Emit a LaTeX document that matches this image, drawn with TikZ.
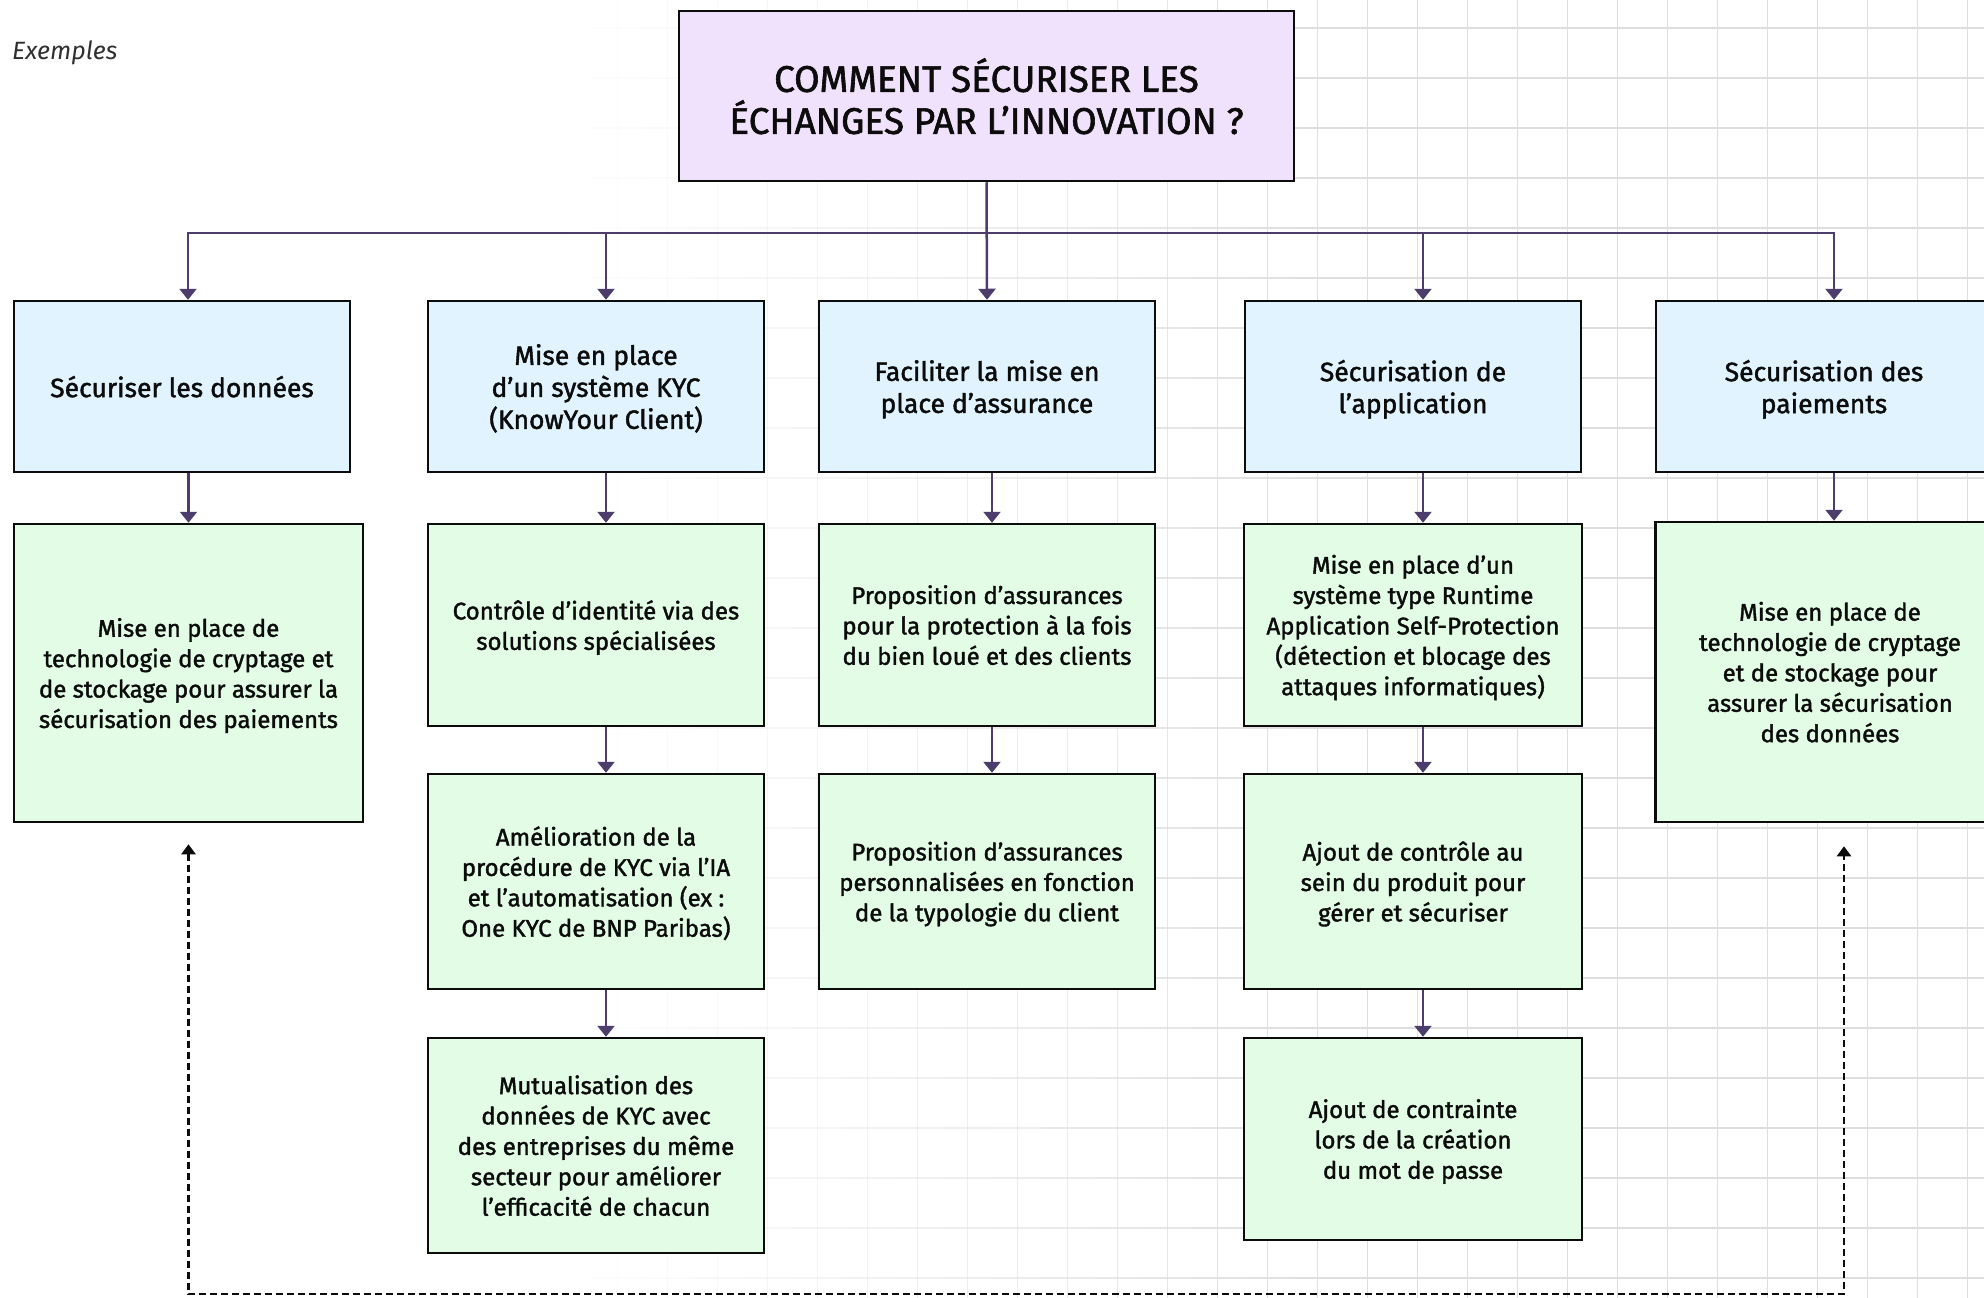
\documentclass[tikz,border=0pt]{standalone}
\usepackage{fontspec}
\setmainfont{Fira Sans}[BoldFont={Fira Sans}, BoldFeatures={FakeBold=1.6}]
\usepackage{tikz}
\usetikzlibrary{arrows.meta}

\definecolor{lavande}{RGB}{240,225,252}
\definecolor{bleuclair}{RGB}{224,243,254}
\definecolor{vertclair}{RGB}{226,252,229}
\definecolor{violet}{RGB}{76,61,108}
\definecolor{grille}{RGB}{222,222,222}
\definecolor{encre}{RGB}{12,12,12}
\newcommand{\taille}[2]{\fontsize{#1}{#2}\selectfont}

\begin{document}
\begin{tikzpicture}[x=1pt, y=-1pt,
    every node/.style={align=center, text=encre, inner sep=0pt},
    titre/.style={draw=encre, line width=2.5pt, fill=lavande, minimum width=615pt, minimum height=170pt, font=\bfseries\taille{37}{42}, text depth=-9pt},
    axe/.style={draw=encre, line width=2.5pt, fill=bleuclair, minimum width=336pt, minimum height=171pt, font=\bfseries\taille{26.5}{32}, text depth=-14pt},
    solution/.style={draw=encre, line width=2.5pt, fill=vertclair, minimum width=336pt, font=\bfseries\taille{24}{30.4}, text depth=-9pt},
    fleche/.style={violet, line width=2.5pt, -{Triangle[width=17pt,length=11pt]}},
    retour/.style={encre, line width=2.5pt, dash pattern=on 7pt off 4pt, {Triangle[width=14pt,length=10pt]}-{Triangle[width=14pt,length=10pt]}}]
      \useasboundingbox (0,0) rectangle (1984,1298);
      \clip (0,0) rectangle (1984,1298);
      \foreach \x in {567.5,617.5,...,1967.5} {
        \pgfmathsetmacro{\op}{min(1,(\x-550)/800)}
        \draw[grille, line width=1.3pt, opacity=\op] (\x,0) -- (\x,1298);
        \foreach \y in {28,78,...,1278}
          \draw[grille, line width=1.3pt, opacity=\op] (\x-25,\y) -- (\x+25,\y);
      }
      \node[anchor=west, font=\itshape\taille{25}{30}, text=encre!85] (EX) at (12,53) {Exemples};
      \node[titre] (T) at (986.5,96) {COMMENT SÉCURISER LES\\ÉCHANGES PAR L’INNOVATION ?};

      \node[axe] (SD) at (182,386.5) {Sécuriser les données};
      \node[axe] (KYC) at (596,386.5) {Mise en place\\d’un système KYC\\(KnowYour Client)};
      \node[axe] (FA) at (987,386.5) {Faciliter la mise en\\place d’assurance};
      \node[axe] (SA) at (1413,386.5) {Sécurisation de\\l’application};
      \node[axe] (SP) at (1824,386.5) {Sécurisation des\\paiements};

      \node[solution, minimum width=349pt, minimum height=298pt] (SD1) at (188.5,673) {Mise en place de\\technologie de cryptage et\\de stockage pour assurer la\\sécurisation des paiements};
      \node[solution, minimum height=202pt] (KYC1) at (596,625) {Contrôle d’identité via des\\solutions spécialisées};
      \node[solution, minimum height=215pt] (KYC2) at (596,881.5) {Amélioration de la\\procédure de KYC via l’IA\\et l’automatisation (ex :\\One KYC de BNP Paribas)};
      \node[solution, minimum height=215pt] (KYC3) at (596,1145.5) {Mutualisation des\\données de KYC avec\\des entreprises du même\\secteur pour améliorer\\l’efficacité de chacun};
      \node[solution, minimum height=202pt] (FA1) at (987,625) {Proposition d’assurances\\pour la protection à la fois\\du bien loué et des clients};
      \node[solution, minimum height=215pt] (FA2) at (987,881.5) {Proposition d’assurances\\personnalisées en fonction\\de la typologie du client};
      \node[solution, minimum width=338pt, minimum height=202pt] (SA1) at (1413,625) {Mise en place d’un\\système type Runtime\\Application Self-Protection\\(détection et blocage des\\attaques informatiques)};
      \node[solution, minimum width=338pt, minimum height=215pt] (SA2) at (1413,881.5) {Ajout de contrôle au\\sein du produit pour\\gérer et sécuriser};
      \node[solution, minimum width=338pt, minimum height=202pt] (SA3) at (1413,1139) {Ajout de contrainte\\lors de la création\\du mot de passe};
      \node[solution, minimum width=349pt, minimum height=300pt] (SP1) at (1830,672) {Mise en place de\\technologie de cryptage\\et de stockage pour\\assurer la sécurisation\\des données};

      \coordinate (J) at (987,233);
      \draw[fleche] (T.south) -- (FA.north);
      \draw[fleche] (J) -| ([xshift=6pt]SD.north);
      \draw[fleche] (J) -| ([xshift=10pt]KYC.north);
      \draw[fleche] (J) -| ([xshift=10pt]SA.north);
      \draw[fleche] (J) -| ([xshift=10pt]SP.north);

      \draw[fleche] (SD1.north |- SD.south) -- (SD1.north);
      \draw[fleche] ([xshift=10pt]KYC.south) -- ([xshift=10pt]KYC1.north);
      \draw[fleche] ([xshift=10pt]KYC1.south) -- ([xshift=10pt]KYC2.north);
      \draw[fleche] ([xshift=10pt]KYC2.south) -- ([xshift=10pt]KYC3.north);
      \draw[fleche] ([xshift=5pt]FA.south) -- ([xshift=5pt]FA1.north);
      \draw[fleche] ([xshift=5pt]FA1.south) -- ([xshift=5pt]FA2.north);
      \draw[fleche] ([xshift=10pt]SA.south) -- ([xshift=10pt]SA1.north);
      \draw[fleche] ([xshift=10pt]SA1.south) -- ([xshift=10pt]SA2.north);
      \draw[fleche] ([xshift=10pt]SA2.south) -- ([xshift=10pt]SA3.north);
      \draw[fleche] ([xshift=10pt]SP.south) -- ([xshift=10pt]SP.south |- SP1.north);

      \coordinate (L) at ([yshift=-21pt]SD1.south);
      \coordinate (R) at ([xshift=14pt,yshift=-23pt]SP1.south);
      \coordinate (B) at (1000,1294);
      \draw[retour] (L) |- (B) -| (R);
    \end{tikzpicture}
\end{document}
